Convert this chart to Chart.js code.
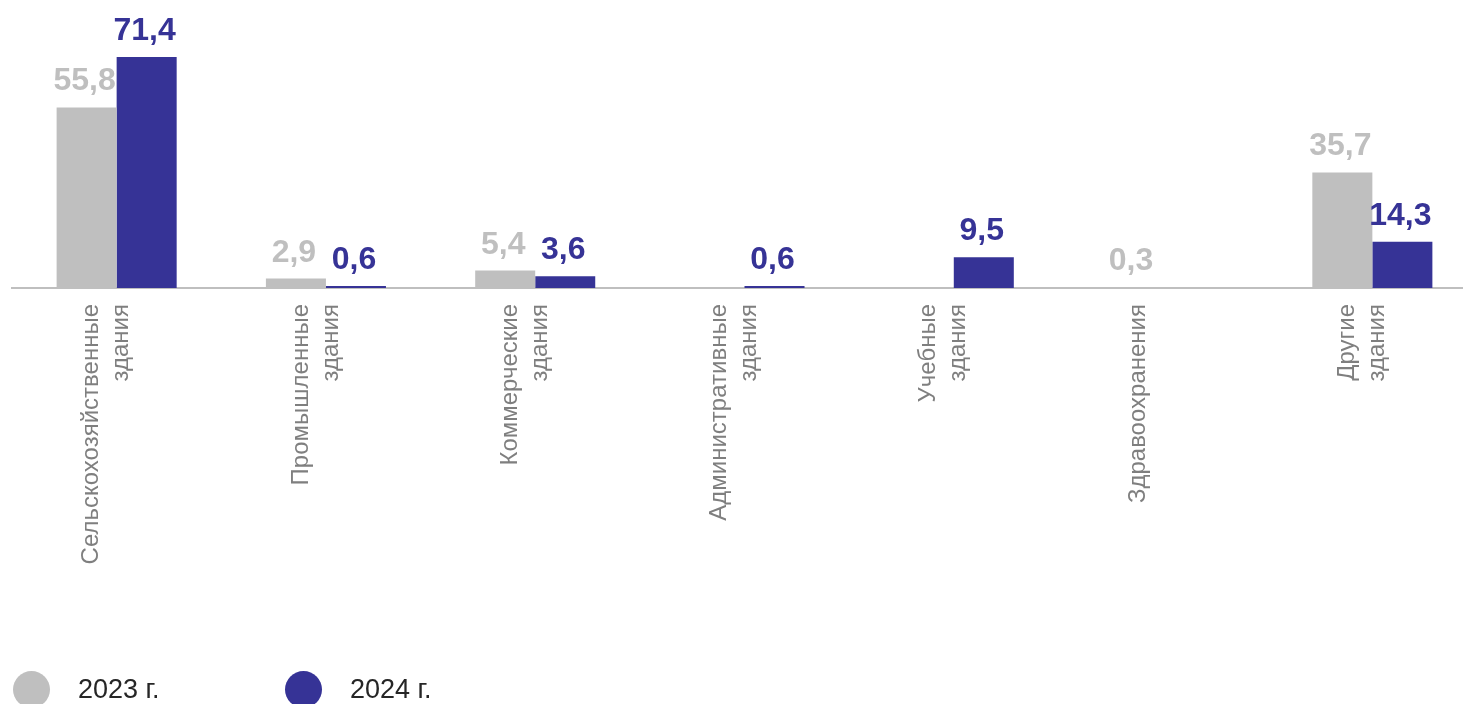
<!DOCTYPE html>
<html lang="ru">
<head>
  <meta charset="utf-8">
  <title>Здания по назначению</title>
  <script src="https://cdn.jsdelivr.net/npm/chart.js@4.4.0/dist/chart.umd.min.js"></script>
  <style>
    html, body { margin: 0; padding: 0; overflow: hidden; background: #fff; }
    #wrap { position: relative; width: 1477px; height: 704px; }
    .legend { position: absolute; top: 671px; left: 13px; font-family: "Liberation Sans", Arial, sans-serif; font-size: 27px; color: #262626; }
    .legend span.item { position: absolute; white-space: nowrap; }
    .legend i { position: absolute; top: 0; width: 37px; height: 37px; border-radius: 50%; }
    .legend b { position: absolute; top: 3px; font-weight: normal; }
  </style>
</head>
<body>
<div id="wrap">
  <canvas id="chart" width="1477" height="704"></canvas>
  <div class="legend" id="legend"></div>
</div>
<script>
var categories = [
  ["Сельскохозяйственные", "здания"],
  ["Промышленные", "здания"],
  ["Коммерческие", "здания"],
  ["Административные", "здания"],
  ["Учебные", "здания"],
  "Здравоохранения",
  ["Другие", "здания"]
];
var seriesNames = ["2023 г.", "2024 г."];
var values2023 = [55.8, 2.9, 5.4, null, null, 0.3, 35.7];
var values2024 = [71.4, 0.6, 3.6, 0.6, 9.5, null, 14.3];

var gray = "#bfbfbf";
var blue = "#363396";

// подписи значений над столбцами
var valueLabels = {
  id: "valueLabels",
  afterDatasetsDraw: function(chart) {
    var ctx = chart.ctx;
    ctx.save();
    ctx.font = "bold 32px 'Liberation Sans', Arial, sans-serif";
    ctx.textAlign = "center";
    ctx.textBaseline = "alphabetic";
    chart.data.datasets.forEach(function(ds, di) {
      var meta = chart.getDatasetMeta(di);
      ctx.fillStyle = ds.backgroundColor;
      meta.data.forEach(function(bar, i) {
        var v = ds.data[i];
        if (v === null || v === undefined) return;
        ctx.fillText(String(v).replace(".", ","), bar.x - 2, bar.y - 17);
      });
    });
    ctx.restore();
  }
};

new Chart(document.getElementById("chart"), {
  type: "bar",
  data: {
    labels: categories,
    datasets: [
      { label: seriesNames[0], data: values2023, backgroundColor: gray },
      { label: seriesNames[1], data: values2024, backgroundColor: blue }
    ]
  },
  options: {
    responsive: false,
    animation: false,
    devicePixelRatio: 1,
    layout: { padding: { left: 12, right: 0, top: 0, bottom: 0 } },
    categoryPercentage: 0.5736,
    barPercentage: 1,
    plugins: {
      legend: { display: false },
      tooltip: { enabled: false }
    },
    scales: {
      x: {
        grid: { display: false, drawTicks: false },
        border: { display: true, color: gray, width: 2 },
        ticks: {
          autoSkip: false,
          minRotation: 90,
          maxRotation: 90,
          padding: 16,
          labelOffset: -25,
          color: "#7f7f7f",
          font: { family: "'Liberation Sans', Arial, sans-serif", size: 24, lineHeight: 1.25 }
        },
        afterFit: function(scale) { scale.height = 416; }
      },
      y: {
        display: false,
        min: 0,
        max: 89
      }
    }
  },
  plugins: [valueLabels]
});

// легенда
var legendColors = [gray, blue];
var legendX = [0, 272];
var legendEl = document.getElementById("legend");
seriesNames.forEach(function(name, i) {
  var item = document.createElement("span");
  item.className = "item";
  item.style.left = legendX[i] + "px";
  item.innerHTML = '<i style="background:' + legendColors[i] + '"></i><b style="left:65px">' + name + '</b>';
  legendEl.appendChild(item);
});
</script>
</body>
</html>
